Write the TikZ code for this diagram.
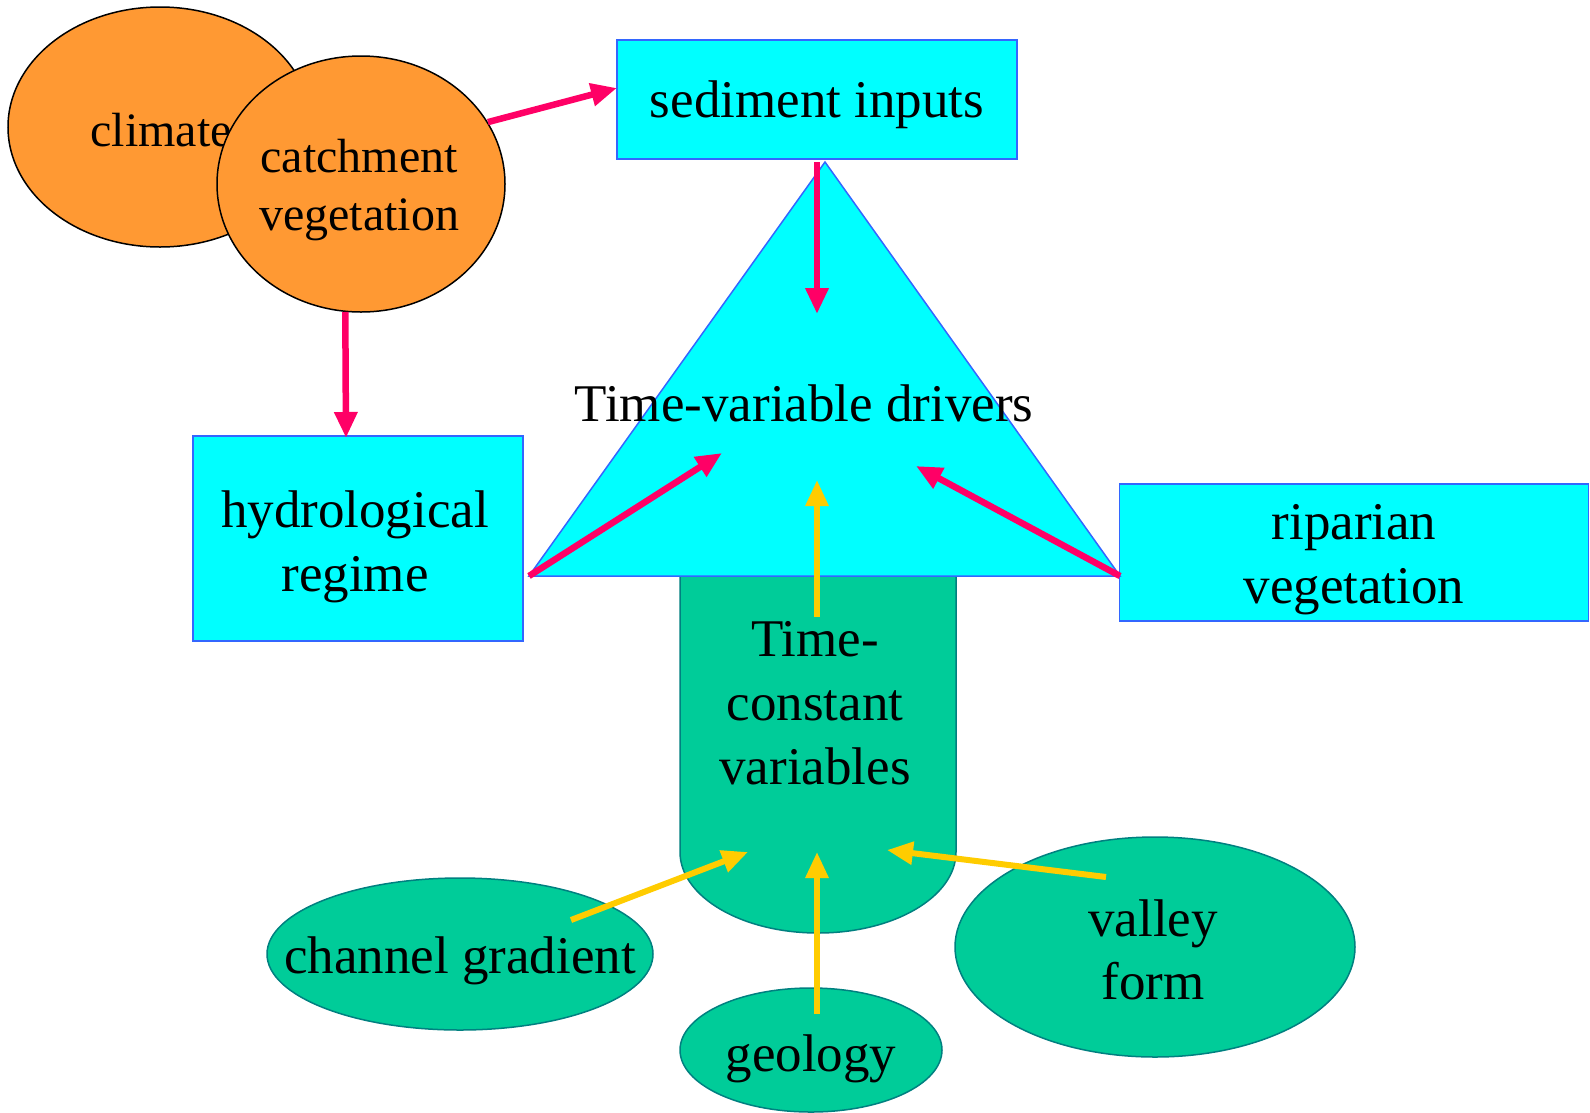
\documentclass[tikz,border=0pt]{standalone}
\usepackage{fontspec}
\setmainfont{Liberation Serif}
\usetikzlibrary{shapes.geometric,arrows.meta}
\definecolor{orangefill}{HTML}{FF9933}
\definecolor{cyanfill}{HTML}{00FFFF}
\definecolor{cyanline}{HTML}{3366FF}
\definecolor{greenfill}{HTML}{00CC99}
\definecolor{greenline}{HTML}{008080}
\definecolor{pinkarrow}{HTML}{FF0066}
\definecolor{yellowarrow}{HTML}{FFCC00}
\begin{document}
\begin{tikzpicture}[x=1pt,y=1pt,
  orangeell/.style={ellipse, draw=black, fill=orangefill, line width=1.5pt, inner sep=0pt},
  greenell/.style={ellipse, draw=greenline, fill=greenfill, line width=1.5pt, inner sep=0pt},
  cyanbox/.style={rectangle, draw=cyanline, fill=cyanfill, line width=1.5pt, inner sep=0pt},
  smalltext/.style={align=center, inner sep=0pt, font=\fontsize{48}{58}\selectfont},
  bigtext/.style={align=center, inner sep=0pt, font=\fontsize{53}{64}\selectfont},
  pinkarr/.style={draw=pinkarrow, line width=6.5pt, -{Triangle[length=26pt,width=22pt]}},
  yellowarr/.style={draw=yellowarrow, line width=6pt, -{Triangle[length=26pt,width=22pt]}},
]
\useasboundingbox (0,0) rectangle (1590,-1112);

% orange ellipses
\node[orangeell, minimum width=304pt, minimum height=240pt] (climate) at (160,-127) {};
\node[smalltext] (climatet) at (161,-130) {climate};
\node[orangeell, minimum width=288pt, minimum height=256pt] (catch) at (361,-184) {};
\node[smalltext] (catcht) at (359,-190) {catchment\\vegetation};

% cyan boxes
\node[cyanbox, minimum width=400pt, minimum height=119pt] (sed) at (817,-99.5) {};
\node[bigtext] (sedt) at (817,-104.5) {sediment inputs};
\node[cyanbox, minimum width=330pt, minimum height=205pt] (hydro) at (358,-538.5) {};
\node[bigtext] (hydrot) at (355,-546.5) {hydrological\\regime};
\node[cyanbox, minimum width=469pt, minimum height=137pt] (ripar) at (1354,-552.5) {};
\node[bigtext] (ripart) at (1354,-559.5) {riparian\\vegetation};

% time-constant shape
\draw[draw=greenline, fill=greenfill, line width=1.5pt]
  (680,-576) -- (680,-852) arc[start angle=180, end angle=360, x radius=138pt, y radius=81pt] -- (956,-576) -- cycle;
\node[bigtext] (tconst) at (815,-703) {Time-\\constant\\variables};

% triangle
\coordinate (triA) at (825,-162);
\coordinate (triL) at (529,-576);
\coordinate (triR) at (1120,-576);
\draw[draw=cyanline, fill=cyanfill, line width=1.5pt] (triA) -- (triR) -- (triL) -- cycle;
\node[bigtext] (tvar) at (804,-403) {Time-variable drivers};

% green ellipses
\node[greenell, minimum width=386pt, minimum height=152pt] (cgrad) at (460,-954) {};
\node[bigtext] (cgradt) at (460,-961) {channel gradient};
\node[greenell, minimum width=262pt, minimum height=124pt] (geol) at (811,-1050) {};
\node[bigtext] (geolt) at (811,-1059) {geology};
\node[greenell, minimum width=400pt, minimum height=220pt] (valley) at (1155,-947) {};
\node[bigtext, font=\fontsize{53}{63}\selectfont] (valleyt) at (1153,-950) {valley\\form};

% arrow end coordinates
\coordinate (sedin) at (617,-88);
\coordinate (triin1) at (817,-314);
\coordinate (hydroin) at (346,-438);
\coordinate (triin2) at (722,-453);
\coordinate (triin3) at (916,-466);
\coordinate (triin4) at (817,-480);
\coordinate (tcout) at (817,-617);
\coordinate (cgout) at (571,-920);
\coordinate (tcin1) at (748,-852);
\coordinate (geolout) at (817,-1014);
\coordinate (tcin2) at (817,-852);
\coordinate (valleyout) at (1106,-877);
\coordinate (tcin3) at (887,-850);
\coordinate (sedout) at (817,-162);

% pink arrows
\draw[pinkarr] (catch.26) -- (sedin);
\draw[pinkarr] (sedout) -- (triin1);
\draw[pinkarr] (catch.263) -- (hydroin);
\draw[pinkarr] (triL) -- (triin2);
\draw[pinkarr] (triR) -- (triin3);

% yellow arrows
\draw[yellowarr] (tcout) -- (triin4);
\draw[yellowarr] (cgout) -- (tcin1);
\draw[yellowarr] (geolout) -- (tcin2);
\draw[yellowarr] (valleyout) -- (tcin3);
\end{tikzpicture}
\end{document}
